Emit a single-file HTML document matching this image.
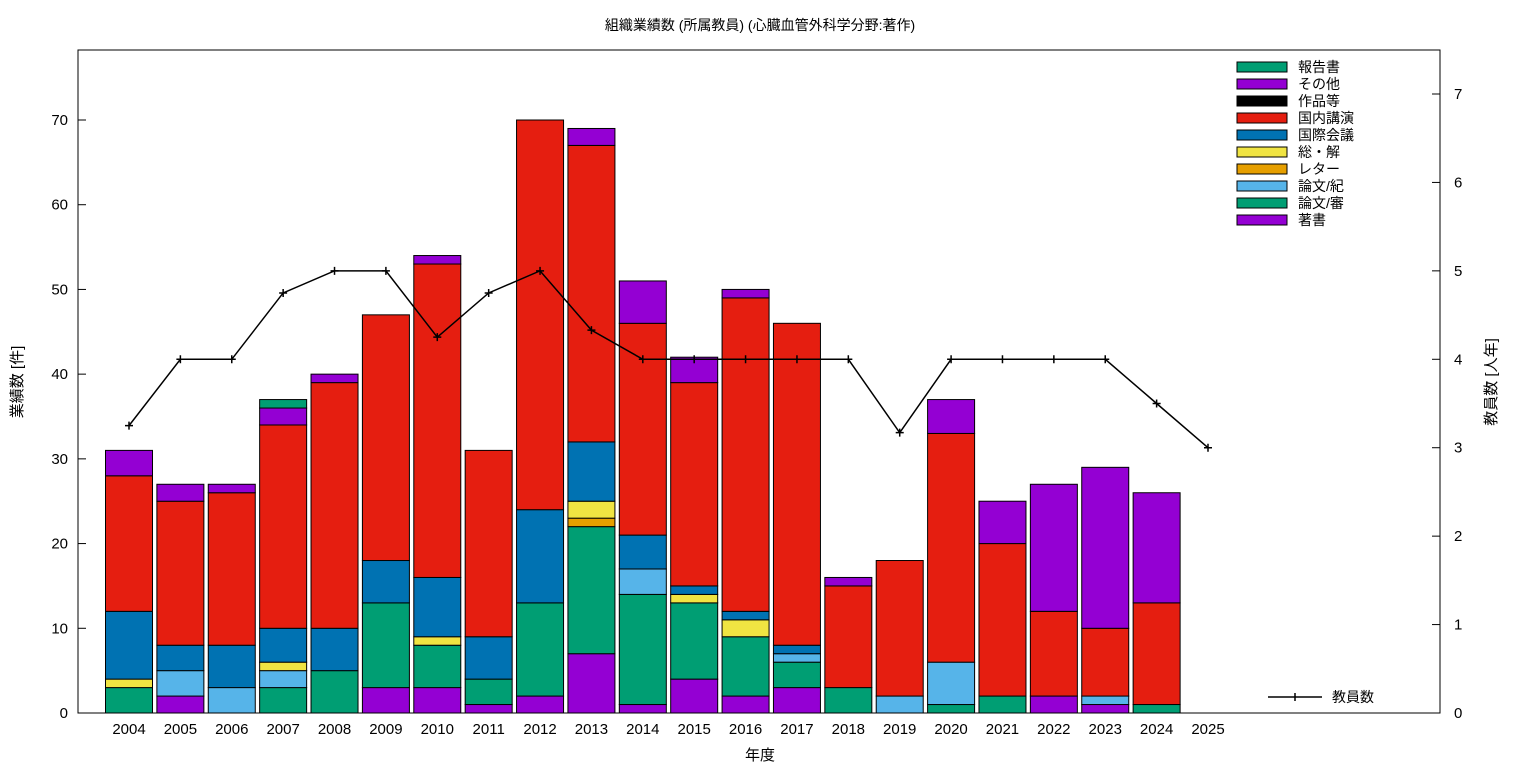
<!DOCTYPE html>
<html><head><meta charset="utf-8">
<style>
body{margin:0;background:#fff;}
svg{display:block;font-family:"Liberation Sans","Noto Sans CJK JP",sans-serif;}
</style></head>
<body>
<svg id="chart" width="1536" height="768">
<text x="760" y="30" font-size="14" text-anchor="middle">組織業績数 (所属教員) (心臓血管外科学分野:著作)</text>
<text x="760" y="760" font-size="15" text-anchor="middle">年度</text>
<text transform="translate(22,382) rotate(-90)" font-size="15" text-anchor="middle">業績数 [件]</text>
<text transform="translate(1496,382) rotate(-90)" font-size="15" text-anchor="middle">教員数 [人年]</text>
<g id="marks"></g>
<rect x="78" y="50" width="1362" height="663" fill="none" stroke="#000"/>
</svg>
<script>
const years=["2004","2005","2006","2007","2008","2009","2010","2011","2012","2013","2014","2015","2016","2017","2018","2019","2020","2021","2022","2023","2024","2025"];
const chosho=[0,2,0,0,0,3,3,1,2,7,1,4,2,3,0,0,0,0,2,1,0,0];
const shinsa=[3,0,0,3,5,10,5,3,11,15,13,9,7,3,3,0,1,2,0,0,1,0];
const kiyo=[0,3,3,2,0,0,0,0,0,0,3,0,0,1,0,2,5,0,0,1,0,0];
const letter=[0,0,0,0,0,0,0,0,0,1,0,0,0,0,0,0,0,0,0,0,0,0];
const sokai=[1,0,0,1,0,0,1,0,0,2,0,1,2,0,0,0,0,0,0,0,0,0];
const kokusai=[8,3,5,4,5,5,7,5,11,7,4,1,1,1,0,0,0,0,0,0,0,0];
const kokunai=[16,17,18,24,29,29,37,22,46,35,25,24,37,38,12,16,27,18,10,8,12,0];
const sakuhin=[0,0,0,0,0,0,0,0,0,0,0,0,0,0,0,0,0,0,0,0,0,0];
const sonota=[3,2,1,2,1,0,1,0,0,2,5,3,1,0,1,0,4,5,15,19,13,0];
const hokoku=[0,0,0,1,0,0,0,0,0,0,0,0,0,0,0,0,0,0,0,0,0,0];
const staff=[3.25,4,4,4.75,5,5,4.25,4.75,5,4.33,4,4,4,4,4,3.17,4,4,4,4,3.5,3];
const yTicks=[0,10,20,30,40,50,60,70];
const y2Ticks=[0,1,2,3,4,5,6,7];
const seriesNames=["著書","論文/審","論文/紀","レター","総・解","国際会議","国内講演","作品等","その他","報告書"];
const seriesData=[chosho,shinsa,kiyo,letter,sokai,kokusai,kokunai,sakuhin,sonota,hokoku];
const colors=["#9400d3","#009e73","#56b4e9","#e69f00","#f0e442","#0072b2","#e51e10","#000000","#9400d3","#009e73"];
const NS="http://www.w3.org/2000/svg";
const g=document.getElementById("marks");
const L=78,R=1440,T=50,B=713;
const x=i=>129+i*(1208-129)/21;
const y=v=>B-v*(B-120)/70;
const y2=v=>B-v*(B-94)/7;
function mk(tag,attrs){const e=document.createElementNS(NS,tag);for(const k in attrs)e.setAttribute(k,attrs[k]);g.appendChild(e);return e;}
yTicks.forEach(t=>{
  const l=mk("line",{x1:L,x2:L+8,y1:y(t),y2:y(t),stroke:"#000"});
  
  
  const tx=mk("text",{x:L-10,y:y(t)+5,"font-size":15,"text-anchor":"end"});tx.textContent=t;
  
  
});
y2Ticks.forEach(t=>{
  const l=mk("line",{x1:R-8,x2:R,y1:y2(t),y2:y2(t),stroke:"#000"});
  
  
  const tx=mk("text",{x:R+14,y:y2(t)+5,"font-size":15});tx.textContent=t;
  
  
});
years.forEach((yr,i)=>{
  const tx=mk("text",{x:x(i),y:B+21,"font-size":15,"text-anchor":"middle"});tx.textContent=yr;
  
  
  let base=0;
  seriesData.forEach((s,k)=>{
    const v=s[i];if(!v)return;
    const r=mk("rect",{x:x(i)-23.5,y:y(base+v),width:47,height:y(base)-y(base+v),fill:colors[k],stroke:"#000","stroke-width":1});
    
    
    base+=v;
  });
});
const pts=staff.map((v,i)=>x(i)+","+y2(v)).join(" ");
const pl=mk("polyline",{points:pts,fill:"none",stroke:"#000","stroke-width":1.5});


staff.forEach((v,i)=>{
  const p=mk("path",{d:`M${x(i)-4},${y2(v)}h8M${x(i)},${y2(v)-4}v8`,stroke:"#000","stroke-width":1.5});
  
  
});
for(let k=9;k>=0;k--){
  const row=9-k, yy=67+row*17;
  const r=mk("rect",{x:1237,y:yy-5,width:50,height:10,fill:colors[k],stroke:"#000"});
  
  
  const tx=mk("text",{x:1298,y:yy+5,"font-size":14});tx.textContent=seriesNames[k];
  
  
}
const ll=mk("path",{d:"M1268,697h54M1295,693v8",stroke:"#000","stroke-width":1.5});


const lt=mk("text",{x:1332,y:702,"font-size":14});lt.textContent="教員数";


</script>
</body></html>
